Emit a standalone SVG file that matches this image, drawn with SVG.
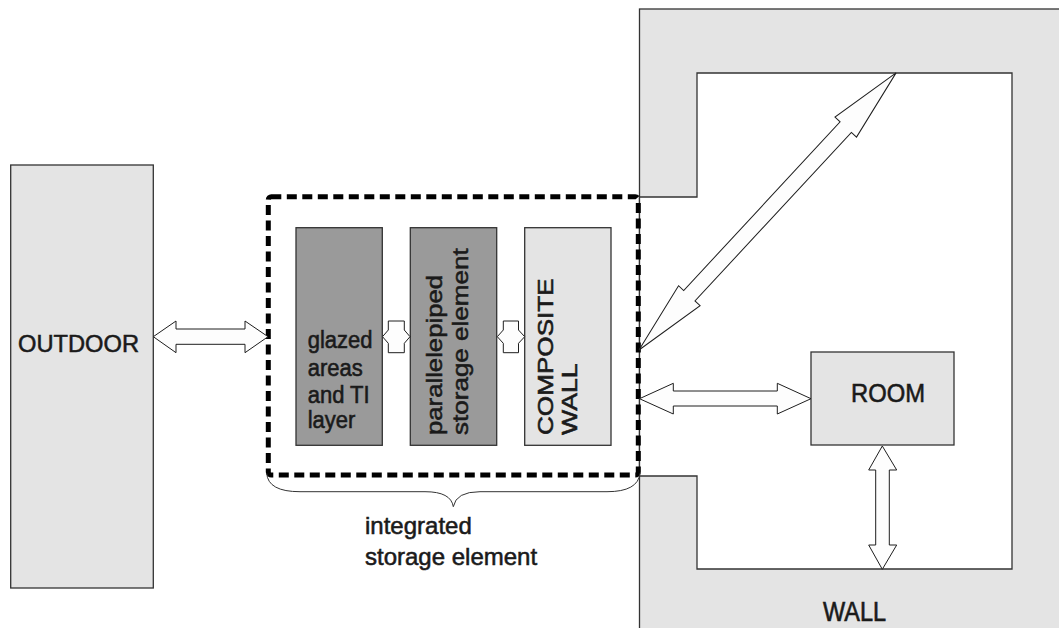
<svg xmlns="http://www.w3.org/2000/svg" width="1059" height="628" viewBox="0 0 1059 628">
  <style>
    .box { stroke: #333333; stroke-width: 1.3; }
    .light { fill: #e4e4e4; }
    .dark { fill: #9a9a9a; }
    .arrow { fill: #fdfdfd; stroke: #1e1e1e; stroke-width: 1; stroke-linejoin: miter; }
    .label { font-family: "Liberation Sans", Arial, sans-serif; fill: #1a1a1a; stroke: #1a1a1a; stroke-width: 0.55; }
    .dash { fill: none; stroke: #000000; stroke-width: 5; stroke-dasharray: 10 5.5; }
    .brace { fill: none; stroke: #333333; stroke-width: 1; }
  </style>

  <rect width="1059" height="628" fill="#ffffff"/>

  <!-- surrounding wall with the room space cut out -->
  <g id="wall">
    <rect class="box light" x="639.5" y="9" width="440" height="640"/>
    <polygon fill="#ffffff" stroke="#333333" stroke-width="1.3"
             points="697,73 1012,73 1012,569 697,569 697,476 639.5,476 639.5,197 697,197"/>
    <text class="label" font-size="23" stroke-width="0.9" transform="matrix(1,0,0,1.2,823,620.5)" textLength="63" lengthAdjust="spacingAndGlyphs">WALL</text>
  </g>

  <!-- outdoor -->
  <g id="outdoor">
    <rect class="box light" x="10.7" y="165" width="142.6" height="423"/>
    <text class="label" font-size="24" x="18" y="351.5" textLength="121" lengthAdjust="spacingAndGlyphs">OUTDOOR</text>
  </g>

  <!-- room -->
  <g id="room">
    <rect class="box light" x="811" y="352" width="143" height="93"/>
    <text class="label" font-size="24" transform="matrix(1,0,0,1.1,851,402)" textLength="74" lengthAdjust="spacingAndGlyphs">ROOM</text>
  </g>

  <!-- layers of the integrated storage element -->
  <g id="glazing">
    <rect class="box dark" x="296" y="227.7" width="86.3" height="217.6"/>
    <g class="label" font-size="22">
      <text transform="matrix(1,0,0,1.1,307.7,348.3)">glazed</text>
      <text transform="matrix(1,0,0,1.1,307.7,376)">areas</text>
      <text transform="matrix(1,0,0,1.1,307.7,402.7)">and TI</text>
      <text transform="matrix(1,0,0,1.1,307.7,428.3)">layer</text>
    </g>
  </g>

  <g id="storage">
    <rect class="box dark" x="410.3" y="227.7" width="86.4" height="217.6"/>
    <g class="label" font-size="22.5">
      <text transform="translate(442.3,435) rotate(-90)" textLength="160" lengthAdjust="spacingAndGlyphs">parallelepiped</text>
      <text transform="translate(468.3,435) rotate(-90)" textLength="186.7" lengthAdjust="spacingAndGlyphs">storage element</text>
    </g>
  </g>

  <g id="composite">
    <rect class="box light" x="524.7" y="227.7" width="86.3" height="217.6"/>
    <g class="label" font-size="22">
      <text transform="translate(553.3,435) rotate(-90)" textLength="156.7" lengthAdjust="spacingAndGlyphs">COMPOSITE</text>
      <text transform="translate(576.7,435) rotate(-90)" textLength="71.7" lengthAdjust="spacingAndGlyphs">WALL</text>
    </g>
  </g>

  <!-- boundary of the integrated storage element and its brace label -->
  <g id="integrated-element">
    <rect class="dash" x="268.3" y="196.7" width="370" height="278.3" rx="3"/>
    <path class="brace" d="M266.7,473.3 Q268,491.7 300,491.7 L425,491.7 Q451,491.7 453.3,506.7 Q456,491.7 480,491.7 L607,491.7 Q638,491.7 640,473.3"/>
    <g class="label" font-size="24">
      <text x="365" y="534">integrated</text>
      <text x="365" y="565">storage element</text>
    </g>
  </g>

  <!-- heat exchange arrows -->
  <g id="connectors">
    <polygon class="arrow" points="153.3,336.7 176,321 176,329 245,329 245,321 268,336.7 245,352.7 245,344.3 176,344.3 176,352.7"/>
    <polygon class="arrow" points="382.5,336.7 388.3,330 388.3,321 404.3,321 404.3,330 410,336.7 404.3,343.3 404.3,352.7 388.3,352.7 388.3,343.3"/>
    <polygon class="arrow" points="497.3,336.7 503.3,330 503.3,321 518.5,321 518.5,330 524.7,336.7 518.5,343.3 518.5,352.7 503.3,352.7 503.3,343.3"/>
    <polygon class="arrow" points="639.5,398.7 673.3,383.3 673.3,391 777.3,391 777.3,383.3 811,398.7 777.3,414 777.3,406 673.3,406 673.3,414"/>
    <polygon class="arrow" points="882.3,446 896.7,470 889.3,470 889.3,545 896.7,545 882.3,569.3 868.7,545 875.7,545 875.7,470 868.7,470"/>
    <polygon class="arrow" transform="translate(639,350) rotate(-47.15)"
             points="0,0 74,-14.7 74,-7.7 304,-7.7 304,-14.7 378,0 304,14.7 304,7.7 74,7.7 74,14.7"/>
  </g>
</svg>
